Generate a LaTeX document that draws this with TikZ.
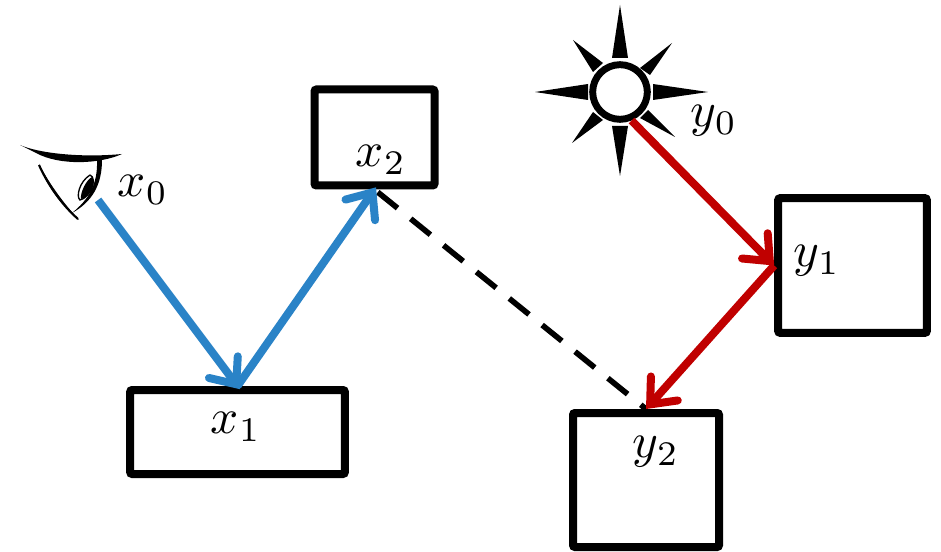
\documentclass[tikz,border=0pt]{standalone}
\usepackage{graphicx}
\usetikzlibrary{arrows.meta}
\definecolor{rayblue}{HTML}{2A83C7}
\definecolor{rayred}{HTML}{C00000}
\newcommand{\biglabel}[1]{\scalebox{3.7}{$#1$}}
\tikzset{
  x=0.75pt,y=-0.75pt,
  roombox/.style={draw=black,line width=6pt,rounded corners=1.5pt,minimum width=#1,inner sep=0pt,fill=white},
  lbl/.style={inner sep=0pt},
  ray/.style={line width=6pt,-{Straight Barb[length=16pt,width=27pt,line cap=round,line width=6pt]}},
  pathdash/.style={line width=4.2pt,black,dash pattern=on 19pt off 12.7pt,dash phase=28.5pt}
}
\begin{document}
\begin{tikzpicture}
\useasboundingbox (0,0) rectangle (941,552);
% boxes
\node[roombox=90pt,minimum height=72pt] (x2) at (374.5,137.5) {};
\node[roombox=161pt,minimum height=63pt] (x1) at (237.5,432) {};
\node[roombox=111.5pt,minimum height=101pt] (y1) at (852.5,265.5) {};
\node[roombox=109.5pt,minimum height=100.5pt] (y2) at (646,480) {};
% eye
\coordinate (eyeout) at (98,200);
\fill (20,145) .. controls (38,153) and (80,158) .. (122,154) .. controls (100,164) and (60,166) .. (36,153) -- cycle;
\fill (39,164) .. controls (50,185) and (65,205) .. (79,220) .. controls (65,208) and (48,190) .. (39,164) -- cycle;
\draw[line width=1.6pt] (39,165) .. controls (48,185) and (62,205) .. (78,219);
\fill (97,160) -- (102,160) .. controls (102,185) and (92,202) .. (72,213) .. controls (88,200) and (98,185) .. (97,160) -- cycle;
\draw[line width=1pt] (90,175) .. controls (79,182) and (76,197) .. (80,200) .. controls (90,198) and (98,178) .. (90,175);
\fill (92,177) .. controls (86,180) and (80,193) .. (81,199) .. controls (91,197) and (97,182) .. (92,177) -- cycle;
% sun
\node[circle,draw=black,line width=5.2pt,minimum size=41pt,inner sep=0pt,fill=white] (sun) at (620,92) {};
\fill (620,5) -- (628,58) -- (612,58) -- cycle;
\fill (620,176) -- (628,126) -- (612,126) -- cycle;
\fill (535,92) -- (588,84) -- (588,100) -- cycle;
\fill (708,92) -- (653,84) -- (653,100) -- cycle;
\fill (672,43) -- (640,68) -- (650,75) -- cycle;
\fill (573,40) -- (603,63) -- (593,72) -- cycle;
\fill (572,143) -- (593,112) -- (603,120) -- cycle;
\fill (675,137) -- (640,118) -- (648,110) -- cycle;
% connectors
\draw[pathdash] (x2.south) -- (y2.north);
\draw[ray,rayblue,shorten >=-3pt] (eyeout) -- (x1.north);
\draw[ray,rayblue,shorten >=-2pt] (x1.north) -- (x2.south);
\draw[ray,rayred] (sun.-68) -- (y1.west);
\draw[ray,rayred] (y1.west) -- (y2.north);
% labels
\node[lbl] (lx0) at (143,190) {\biglabel{x_0}};
\node[lbl] (lx1) at (236,427) {\biglabel{x_1}};
\node[lbl] (lx2) at (381,160) {\biglabel{x_2}};
\node[lbl] (ly0) at (714,121) {\biglabel{y_0}};
\node[lbl] (ly1) at (817,261) {\biglabel{y_1}};
\node[lbl] (ly2) at (656,452) {\biglabel{y_2}};
\end{tikzpicture}
\end{document}
